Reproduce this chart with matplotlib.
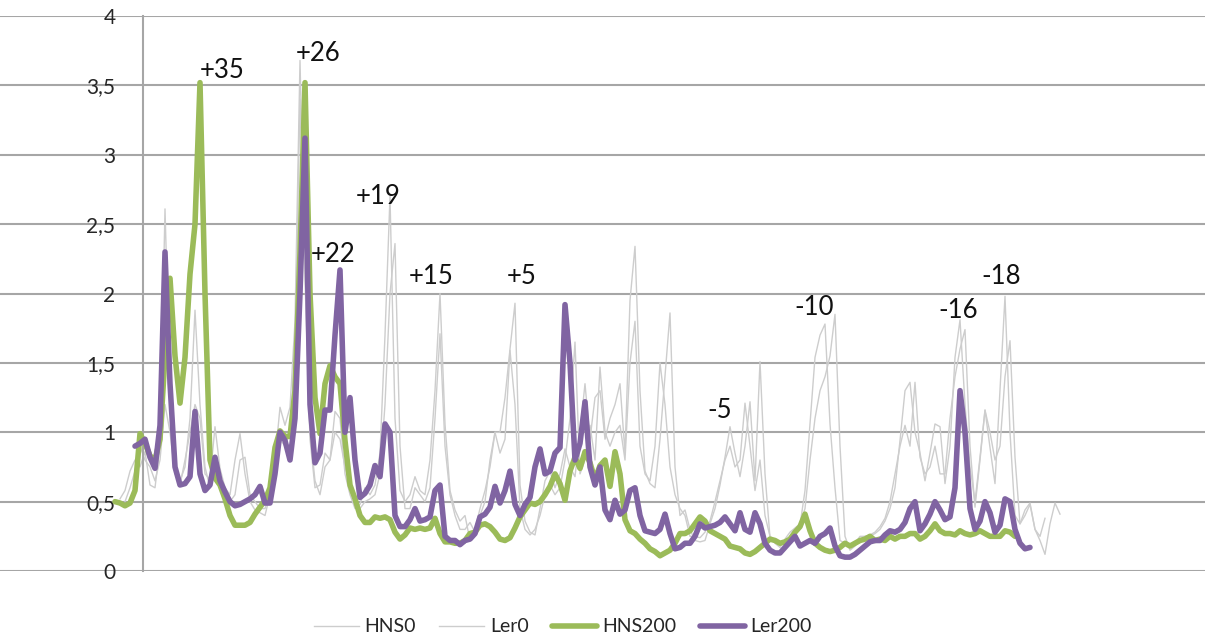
import numpy as np
import matplotlib
matplotlib.use("Agg")
import matplotlib.pyplot as plt
from matplotlib.ticker import FuncFormatter

plt.rcParams["font.family"] = ["Lato", "DejaVu Sans"]

# Sample positions (one category per sample, 190 samples)
positions = np.arange(190)

nan = np.nan

HNS0 = [nan, 0.52, 0.58, 0.72, 0.80, 0.75, 0.86, 0.62, 0.60, 0.90,
        2.61, 1.30, 0.75, 0.62, 0.80, 1.00, 1.20, 1.10, 0.70, 0.66,
        1.04, 0.74, 0.60, 0.55, 0.80, 0.99, 0.70, 0.50, 0.44, 0.42,
        0.40, 0.55, 0.80, 1.18, 1.05, 1.18, 1.80, 3.68, 2.10, 0.95,
        0.60, 0.62, 0.85, 0.80, 1.15, 1.10, 0.70, 0.55, 0.45, 0.48,
        0.60, 0.55, 0.62, 0.85, 1.70, 2.70, 1.10, 0.58, 0.50, 0.55,
        0.68, 0.58, 0.55, 0.80, 1.30, 2.00, 1.06, 0.58, 0.44, 0.36,
        0.40, 0.22, 0.30, 0.45, 0.58, 0.75, 1.00, 1.00, 1.25, 1.60,
        1.93, 0.62, 0.36, 0.28, 0.26, 0.45, 0.65, 0.72, 0.60, 0.70,
        0.88, 0.75, 0.68, 1.00, 1.35, 0.95, 1.25, 1.30, 0.95, 1.10,
        1.20, 1.35, 0.85, 1.95, 2.34, 1.30, 0.72, 0.63, 0.60, 0.95,
        1.40, 1.86, 0.75, 0.40, 0.44, 0.30, 0.22, 0.21, 0.22, 0.34,
        0.45, 0.62, 0.82, 1.04, 0.85, 0.68, 0.90, 1.22, 0.65, 1.51,
        0.70, 0.24, 0.20, 0.17, 0.23, 0.28, 0.31, 0.34, 0.45, 0.80,
        1.10, 1.30, 1.40, 1.55, 1.85, 0.90, 0.25, 0.15, 0.18, 0.22,
        0.25, 0.25, 0.27, 0.30, 0.36, 0.45, 0.60, 0.94, 1.30, 1.36,
        1.00, 0.85, 0.65, 0.85, 1.06, 1.04, 0.63, 0.90, 1.54, 1.81,
        1.20, 0.75, 0.50, 0.82, 1.16, 0.89, 0.63, 1.30, 1.98, 1.00,
        0.40, 0.34, 0.44, 0.49, 0.30, 0.22, 0.12, 0.34, 0.49, 0.41]

Ler0 = [nan, nan, 0.50, 0.60, 0.72, 0.90, 0.80, 0.75, 0.65, 0.80,
        1.20, 1.00, 0.70, 0.65, 0.75, 1.10, 1.88, 1.20, 0.75, 0.60,
        0.78, 0.70, 0.55, 0.50, 0.55, 0.80, 0.82, 0.55, 0.50, 0.45,
        0.45, 0.55, 0.70, 0.95, 0.90, 1.00, 1.60, 3.40, 2.20, 1.00,
        0.65, 0.55, 0.75, 0.80, 1.00, 0.95, 0.75, 0.62, 0.50, 0.45,
        0.50, 0.52, 0.55, 0.70, 1.20, 2.00, 2.36, 0.90, 0.45, 0.45,
        0.60, 0.55, 0.50, 0.60, 1.10, 1.71, 0.90, 0.55, 0.40, 0.30,
        0.30, 0.35, 0.28, 0.40, 0.50, 0.80, 1.00, 0.85, 0.95, 1.59,
        1.20, 0.45, 0.30, 0.26, 0.30, 0.40, 0.55, 0.62, 0.55, 0.60,
        0.80, 1.10, 1.65, 0.70, 0.80, 1.05, 0.80, 1.47, 1.00, 0.90,
        1.00, 1.05, 0.80, 1.50, 1.80, 0.90, 0.70, 0.65, 0.90, 1.50,
        1.20, 0.75, 0.55, 0.45, 0.40, 0.25, 0.25, 0.24, 0.28, 0.36,
        0.50, 0.65, 0.80, 0.90, 0.75, 0.80, 1.21, 0.90, 0.58, 0.80,
        0.40, 0.25, 0.22, 0.20, 0.20, 0.25, 0.30, 0.33, 0.58, 1.06,
        1.54, 1.70, 1.78, 1.06, 0.60, 0.22, 0.20, 0.17, 0.20, 0.25,
        0.25, 0.26, 0.28, 0.32, 0.38, 0.50, 0.70, 0.90, 1.05, 0.90,
        1.36, 0.82, 0.70, 0.75, 0.90, 0.70, 0.70, 1.10, 1.40, 1.60,
        1.74, 0.90, 0.46, 0.80, 1.16, 1.00, 0.80, 0.90, 1.40, 1.66,
        0.82, 0.34, 0.40, 0.48, 0.30, 0.25, 0.38, nan, nan, nan]

HNS200 = [0.50, 0.49, 0.47, 0.49, 0.58, 0.99, 0.92, 0.83, 0.80, 0.95,
          1.55, 2.11, 1.55, 1.21, 1.54, 2.14, 2.50, 3.52, 2.00, 0.80,
          0.67, 0.62, 0.52, 0.40, 0.33, 0.33, 0.33, 0.35, 0.41, 0.46,
          0.51, 0.60, 0.89, 1.01, 0.97, 0.97, 1.30, 2.30, 3.52, 2.00,
          1.25, 0.99, 1.35, 1.48, 1.40, 1.35, 0.94, 0.62, 0.52, 0.40,
          0.35, 0.35, 0.39, 0.38, 0.39, 0.37, 0.28, 0.23, 0.26, 0.31,
          0.30, 0.31, 0.30, 0.31, 0.38, 0.27, 0.21, 0.21, 0.20, 0.20,
          0.22, 0.27, 0.28, 0.33, 0.34, 0.32, 0.28, 0.23, 0.22, 0.24,
          0.31, 0.39, 0.44, 0.49, 0.48, 0.50, 0.55, 0.61, 0.70, 0.63,
          0.51, 0.72, 0.82, 0.74, 0.86, 0.78, 0.66, 0.76, 0.80, 0.61,
          0.86, 0.70, 0.37, 0.29, 0.27, 0.23, 0.20, 0.16, 0.14, 0.11,
          0.13, 0.15, 0.20, 0.27, 0.27, 0.29, 0.34, 0.39, 0.36, 0.29,
          0.27, 0.25, 0.23, 0.18, 0.17, 0.16, 0.13, 0.12, 0.14, 0.17,
          0.20, 0.23, 0.22, 0.20, 0.21, 0.23, 0.28, 0.32, 0.41, 0.29,
          0.20, 0.17, 0.15, 0.14, 0.15, 0.17, 0.20, 0.18, 0.20, 0.22,
          0.23, 0.25, 0.22, 0.23, 0.22, 0.25, 0.23, 0.25, 0.25, 0.27,
          0.27, 0.23, 0.25, 0.29, 0.34, 0.29, 0.27, 0.27, 0.26, 0.29,
          0.27, 0.26, 0.27, 0.29, 0.27, 0.25, 0.25, 0.25, 0.29, 0.28,
          0.25, nan, nan, nan, nan, nan, nan, nan, nan, nan]

Ler200 = [nan, nan, nan, nan, 0.90, 0.92, 0.95, 0.82, 0.74, 1.05,
          2.30, 1.35, 0.75, 0.62, 0.63, 0.68, 1.15, 0.70, 0.58, 0.62,
          0.82, 0.65, 0.57, 0.50, 0.47, 0.48, 0.50, 0.52, 0.55, 0.61,
          0.49, 0.49, 0.70, 1.00, 0.94, 0.80, 1.10, 2.00, 3.12, 1.20,
          0.78, 0.85, 1.16, 1.16, 1.70, 2.17, 1.00, 1.25, 0.80, 0.53,
          0.56, 0.62, 0.76, 0.68, 1.06, 1.00, 0.40, 0.32, 0.32, 0.37,
          0.45, 0.36, 0.37, 0.39, 0.58, 0.62, 0.25, 0.22, 0.22, 0.19,
          0.22, 0.23, 0.27, 0.39, 0.41, 0.46, 0.61, 0.49, 0.58, 0.72,
          0.48, 0.40, 0.48, 0.53, 0.75, 0.88, 0.70, 0.72, 0.85, 0.89,
          1.92, 1.50, 0.80, 0.92, 1.22, 0.75, 0.62, 0.75, 0.44, 0.37,
          0.51, 0.41, 0.44, 0.58, 0.60, 0.40, 0.29, 0.28, 0.27, 0.30,
          0.41, 0.27, 0.16, 0.17, 0.20, 0.20, 0.25, 0.34, 0.31, 0.32,
          0.33, 0.35, 0.39, 0.34, 0.29, 0.42, 0.30, 0.28, 0.42, 0.34,
          0.20, 0.15, 0.13, 0.13, 0.17, 0.21, 0.25, 0.18, 0.20, 0.22,
          0.20, 0.25, 0.27, 0.31, 0.18, 0.11, 0.10, 0.10, 0.12, 0.15,
          0.18, 0.21, 0.22, 0.22, 0.26, 0.29, 0.28, 0.30, 0.35, 0.45,
          0.50, 0.29, 0.34, 0.41, 0.50, 0.44, 0.37, 0.39, 0.60, 1.30,
          1.00, 0.45, 0.30, 0.36, 0.50, 0.42, 0.28, 0.33, 0.52, 0.50,
          0.30, 0.20, 0.16, 0.17, nan, nan, nan, nan, nan, nan]

# Peak labels (nucleosome positions) and where they sit
peak_labels = ["+35", "+26", "+22", "+19", "+15", "+5", "-5", "-10", "-16", "-18"]
peak_label_xy = [(21.4, 3.61), (40.6, 3.73), (43.6, 2.28), (52.6, 2.70),
                 (63.2, 2.12), (81.4, 2.12), (121.0, 1.16), (139.8, 1.90),
                 (168.6, 1.88), (177.2, 2.12)]

y_ticks = np.arange(0, 4.01, 0.5)

fig = plt.figure(figsize=(12.06, 6.39), dpi=100)
ax = fig.add_axes([0.0, 0.1064, 1205 / 1206, 0.8685])

grey_thin = "#cdcdcd"
ax.plot(positions, HNS0, color=grey_thin, lw=1.0, label="HNS0", zorder=2)
ax.plot(positions, Ler0, color=grey_thin, lw=1.0, label="Ler0", zorder=2)
ax.plot(positions, HNS200, color="#9bbb59", lw=4.0, label="HNS200",
        zorder=3, solid_joinstyle="round", solid_capstyle="round")
ax.plot(positions, Ler200, color="#8064a2", lw=4.0, label="Ler200",
        zorder=4, solid_joinstyle="round", solid_capstyle="round")

for txt, (x, y) in zip(peak_labels, peak_label_xy):
    ax.text(x, y, txt, ha="center", va="center", fontsize=18.5,
            color="#111111", zorder=5)

ax.set_xlim(-23, 218)
ax.set_ylim(0, 4)
ax.set_yticks(y_ticks)
ax.yaxis.set_major_formatter(
    FuncFormatter(lambda v, _: f"{v:g}".replace(".", ",")))
ax.set_xticks([])

for side in ("top", "right", "bottom"):
    ax.spines[side].set_visible(False)
ax.spines["left"].set_position(("data", 5.5))
ax.spines["left"].set_color("#a6a6a6")
ax.spines["left"].set_linewidth(1.5)
ax.tick_params(axis="y", length=0, pad=19.5, labelsize=15,
               labelcolor="#262626")

ax.grid(axis="y", color="#a6a6a6", linewidth=1.5)
ax.set_axisbelow(True)

fig.legend(loc="center", bbox_to_anchor=(563 / 1206, 1 - 627 / 639),
           ncol=4, frameon=False, fontsize=14, handlelength=2.3,
           handletextpad=0.3, columnspacing=1.2, labelcolor="#262626")

fig.savefig("out.png", dpi=100)
